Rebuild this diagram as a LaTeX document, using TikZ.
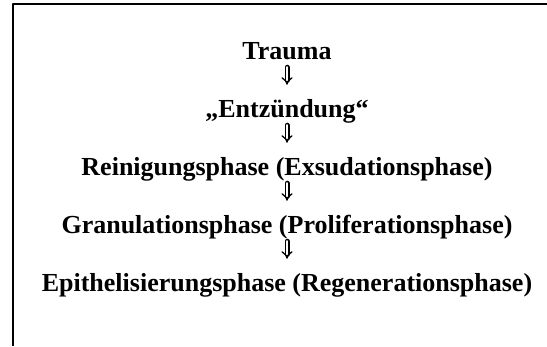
\documentclass[tikz,border=0pt]{standalone}
\usepackage{fontspec}
\setmainfont{Liberation Serif}
\usetikzlibrary{arrows.meta}
\usetikzlibrary{positioning}

\begin{document}
\begin{tikzpicture}[x=1pt, y=1pt, line cap=round, line join=round, >={Implies[length=4pt, width=10pt]},
  phase/.style={font=\fontsize{26}{31}\selectfont\bfseries, inner sep=0pt, anchor=base,
    text height=17pt, text depth=5pt},
  nextphase/.style={double, double distance=2.4pt, line width=1.3pt, ->,
    shorten <=3pt, shorten >=15pt}]

\useasboundingbox (0,0) rectangle (547,-346);

% frame
\draw[line width=2pt, line cap=butt] (13,-346) -- (13,-4) -- (547,-4);

% phases
\node[phase] (trauma) at (287,-59)  {Trauma};
\node[phase] (entz)   at (287,-117) {,,Entzündung``};
\node[phase] (rein)   at (287,-175) {Reinigungsphase (Exsudationsphase)};
\node[phase] (gran)   at (287,-233) {Granulationsphase (Proliferationsphase)};
\node[phase] (epith)  at (287,-291) {Epithelisierungsphase (Regenerationsphase)};

\draw[nextphase] (trauma) -- (entz);
\draw[nextphase] (entz) -- (rein);
\draw[nextphase] (rein) -- (gran);
\draw[nextphase] (gran) -- (epith);

\end{tikzpicture}
\end{document}
